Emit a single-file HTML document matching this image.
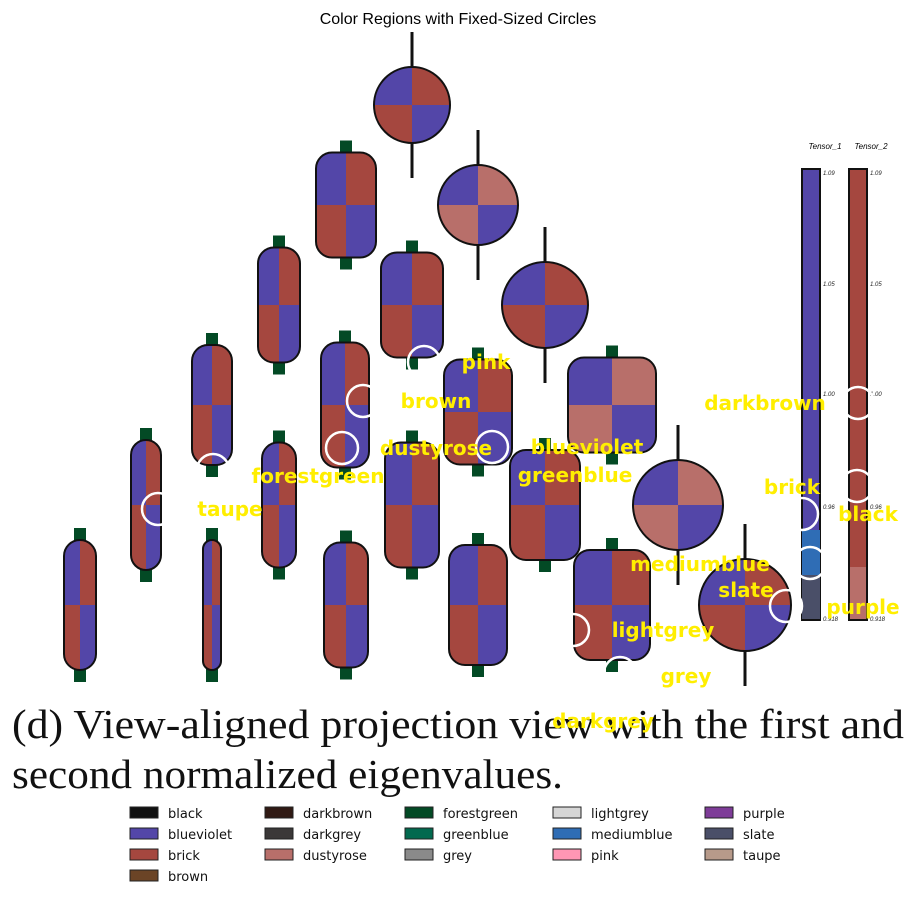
<!DOCTYPE html>
<html><head><meta charset="utf-8"><style>
body{margin:0;background:#fff;width:917px;height:899px;overflow:hidden;font-family:"Liberation Sans","DejaVu Sans",sans-serif}
svg{display:block}
</style></head><body>
<svg width="917" height="899" xmlns="http://www.w3.org/2000/svg">
<text x="458" y="24" text-anchor="middle" font-size="16" fill="#000">Color Regions with Fixed-Sized Circles</text>
<g id="glyphs"></g>
<g id="cbar">
<text x="825" y="149" font-size="8" font-style="italic" text-anchor="middle">Tensor_1</text>
<text x="871" y="149" font-size="8" font-style="italic" text-anchor="middle">Tensor_2</text>
<rect x="802" y="169" width="18" height="451" fill="#5346a8" stroke="#111" stroke-width="2"/>
<rect x="802" y="530" width="18" height="45" fill="#2f6db5"/>
<rect x="802" y="575" width="18" height="44" fill="#4a4f68"/>
<rect x="849" y="169" width="18" height="451" fill="#a5473f" stroke="#111" stroke-width="2"/>
<rect x="850" y="567" width="16" height="52" fill="#b86f6a"/>
<g font-size="6" font-style="italic" fill="#222">
<text x="823" y="175">1.09</text><text x="870" y="175">1.09</text>
<text x="823" y="286">1.05</text><text x="870" y="286">1.05</text>
<text x="823" y="396">1.00</text><text x="870" y="396">1.00</text>
<text x="823" y="509">0.96</text><text x="870" y="509">0.96</text>
<text x="823" y="621">0.918</text><text x="870" y="621">0.918</text>
</g></g>
<g id="circles"></g>
<text x="12" y="738" font-family="Liberation Serif,serif" font-size="41" fill="#111" textLength="892" lengthAdjust="spacingAndGlyphs">(d) View-aligned projection view with the first and</text>
<text x="12" y="788" font-family="Liberation Serif,serif" font-size="41" fill="#111" textLength="551" lengthAdjust="spacingAndGlyphs">second normalized eigenvalues.</text>
<g id="labels"></g>
<g id="legend"></g>
</svg>
<script>
const glyphX=[412,346,478,279,412,545,212,345,478,612,146,279,412,545,678,80,212,346,478,612,745];
const glyphY=[105,205,205,305,305,305,405,405,412,405,505,505,505,505,505,605,605,605,605,605,605];
const glyphW=[76,60,80,42,62,86,40,48,68,88,30,34,54,70,90,32,18,44,58,76,92];
const glyphH=[76,105,80,115,105,86,120,125,105,95,130,125,125,110,90,130,130,125,120,110,92];
const glyphAlt=[0,0,1,0,0,0,0,0,0,1,0,0,0,0,1,0,0,0,0,0,0];
const circleX=[424,363,342,492,213,158,802,810,786,573,620,858,857];
const circleY=[362,401,448,447,470,509,514,563,606,630,673,403,486];
const labelNames=["pink","brown","dustyrose","blueviolet","forestgreen","greenblue","taupe","darkbrown","brick","black","mediumblue","slate","purple","lightgrey","grey","darkgrey"];
const labelX=[486,436,436,587,318,575,230,765,792,868,700,746,863,663,686,603];
const labelY=[362,401,448,447,476,475,509,403,487,514,564,590,607,630,676,721];
const legNames=["black","blueviolet","brick","brown","darkbrown","darkgrey","dustyrose","forestgreen","greenblue","grey","lightgrey","mediumblue","pink","purple","slate","taupe"];
const legColors=["#111111","#5346a8","#a5473f","#6b4426","#301a14","#3b3838","#b86f6a","#034a25","#02694f","#8a8a8a","#d6d6d6","#2f6db5","#ff96b4","#7e3c98","#4a4f68","#b79a8a"];
const NS="http://www.w3.org/2000/svg";
function mk(t,a,p){const e=document.createElementNS(NS,t);for(const k in a)e.setAttribute(k,a[k]);p.appendChild(e);return e;}
const B="#5346a8",R="#a5473f",D="#b86f6a";
const gl=document.getElementById('glyphs');
glyphX.forEach((cx,i)=>{
 const w=glyphW[i],h=glyphH[i],cy=glyphY[i];
 const g=mk('g',{},gl);
 
 
 const isCircle=Math.abs(w-h)<3;
 const rx=isCircle?w/2:Math.min(w/2,16);
 const id='clip'+i;
 const cp=mk('clipPath',{id:id},g);
 mk('rect',{x:cx-w/2,y:cy-h/2,width:w,height:h,rx:rx,ry:isCircle?h/2:rx},cp);
 const ext=isCircle?35:12;
 const st=mk('rect',{x:cx-(isCircle?1.5:6),y:cy-h/2-ext,width:isCircle?3:12,height:h+2*ext,fill:isCircle?"#111":"#034a25"},g);
 
 
 const c2=glyphAlt[i]?D:R;
 const q=mk('g',{'clip-path':'url(#'+id+')'},g);
 mk('rect',{x:cx-w/2,y:cy-h/2,width:w/2,height:h/2,fill:B},q);
 mk('rect',{x:cx,y:cy-h/2,width:w/2,height:h/2,fill:c2},q);
 mk('rect',{x:cx-w/2,y:cy,width:w/2,height:h/2,fill:c2},q);
 mk('rect',{x:cx,y:cy,width:w/2,height:h/2,fill:B},q);
 mk('rect',{x:cx-w/2,y:cy-h/2,width:w,height:h,rx:rx,ry:isCircle?h/2:rx,fill:'none',stroke:'#111','stroke-width':2},g);
});
const cl=document.getElementById('circles');
circleX.forEach((x,i)=>{
 const c=mk('circle',{cx:x,cy:circleY[i],r:16,fill:'none',stroke:'#fff','stroke-width':2.5},cl);
 
 
});
const lb=document.getElementById('labels');
labelNames.forEach((n,i)=>{
 const t=mk('text',{x:labelX[i],y:labelY[i]+7,'text-anchor':'middle','font-size':20,'font-weight':'bold',fill:'#ffee00','font-family':'DejaVu Sans,sans-serif'},lb);
 t.textContent=n;
 
 
});
const lg=document.getElementById('legend');
const colX=[130,265,405,553,705];
legNames.forEach((n,i)=>{
 const col=i<4?0:Math.floor((i-4)/3)+1,row=i<4?i:(i-4)%3;
 const x=colX[col],y=813+row*21;
 const r=mk('rect',{x:x,y:y-6,width:28,height:11,fill:legColors[i],stroke:'#222','stroke-width':1},lg);
 
 
 const t=mk('text',{x:x+38,y:y+5,'font-size':13,fill:'#111','font-family':'DejaVu Sans,sans-serif'},lg);
 t.textContent=n;
 
 
});
</script>
</body></html>
